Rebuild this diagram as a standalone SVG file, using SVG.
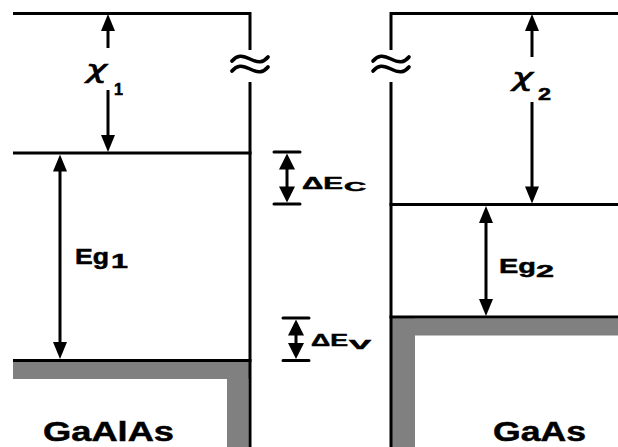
<svg xmlns="http://www.w3.org/2000/svg" xmlns:xlink="http://www.w3.org/1999/xlink" width="618" height="447" viewBox="0 0 618 447">
<style>
.ln{stroke:#000;stroke-width:3;fill:none}
.tk{stroke:#000;stroke-width:3;fill:none;stroke-linecap:round}
.sh{stroke:#000;stroke-width:3;fill:none}
.band{fill:#808080}
.t{font-family:"Liberation Sans",Arial,sans-serif;font-weight:bold;fill:#000;stroke:#000;stroke-width:0.5}
.chi{font-family:"DejaVu Sans","Liberation Sans",sans-serif;font-style:oblique;fill:#000;stroke:#000;stroke-width:0.7}
.brk{stroke:#000;stroke-width:3.6;fill:none;stroke-linecap:round}
</style>
<defs>
<path id="ah" d="M0,0 L-7,17 L7,17 Z" fill="#000"/>
<path id="ahs" d="M0,0 L-8,16 L8,16 Z" fill="#000"/>
<g id="approx">
<path class="brk" d="M1,6 C6,0 11,0 19,4 C27,8 32,8 37,2"/>
<path class="brk" d="M1,16 C6,10 11,10 19,14 C27,18 32,18 37,12"/>
</g>
</defs>
<rect width="618" height="447" fill="#fff"/>

<g id="gaalas">
<rect class="band" x="13" y="362" width="237" height="17"/>
<rect class="band" x="227" y="362" width="21.5" height="85"/>
<path class="ln" d="M13,13.5 H250 V50"/>
<path class="ln" d="M250,82 V447"/>
<path class="ln" d="M13,153 H251.5"/>
<path class="ln" d="M13,360.5 H251.5"/>
<use xlink:href="#approx" x="231" y="55"/>
<text class="t" x="43" y="441" font-size="28.5" textLength="131" lengthAdjust="spacingAndGlyphs">GaAlAs</text>
</g>

<g id="gaas">
<rect class="band" x="391" y="318.5" width="227" height="17"/>
<rect class="band" x="391" y="318.5" width="24" height="128.5"/>
<path class="ln" d="M391,50 V13.5 H618"/>
<path class="ln" d="M391,82 V447"/>
<path class="ln" d="M389.5,204.5 H618"/>
<path class="ln" d="M389.5,317 H618"/>
<use xlink:href="#approx" x="372" y="55"/>
<text class="t" x="493" y="441" font-size="28.5" textLength="93" lengthAdjust="spacingAndGlyphs">GaAs</text>
</g>

<g id="connectors">
<path class="sh" d="M108,48 V30"/>
<use xlink:href="#ah" transform="translate(108,14)"/>
<path class="sh" d="M108,90 V136"/>
<use xlink:href="#ah" transform="translate(108,152) rotate(180)"/>
<path class="sh" d="M60,170 V343"/>
<use xlink:href="#ah" transform="translate(60,154.5)"/>
<use xlink:href="#ah" transform="translate(60,359) rotate(180)"/>
<path class="sh" d="M532,57 V30"/>
<use xlink:href="#ah" transform="translate(532,14)"/>
<path class="sh" d="M532,102 V188"/>
<use xlink:href="#ah" transform="translate(532,203.5) rotate(180)"/>
<path class="sh" d="M486,222 V300"/>
<use xlink:href="#ah" transform="translate(486,206)"/>
<use xlink:href="#ah" transform="translate(486,316) rotate(180)"/>
<path class="tk" d="M274,152 H300 M274,204 H300"/>
<path class="sh" d="M287,166 V190"/>
<use xlink:href="#ahs" transform="translate(287,153.5)"/>
<use xlink:href="#ahs" transform="translate(287,202.5) rotate(180)"/>
<path class="tk" d="M283,318 H309 M283,360.5 H309"/>
<path class="sh" d="M296,332 V347"/>
<use xlink:href="#ahs" transform="translate(296,319.5)"/>
<use xlink:href="#ahs" transform="translate(296,359) rotate(180)"/>
</g>

<g id="labels">
<text class="chi" x="86" y="78" font-size="24" textLength="21" lengthAdjust="spacingAndGlyphs">χ</text>
<text class="t" x="114" y="95" font-size="16" textLength="9" lengthAdjust="spacingAndGlyphs">1</text>
<text class="chi" x="512" y="86" font-size="24" textLength="21" lengthAdjust="spacingAndGlyphs">χ</text>
<text class="t" x="538" y="100" font-size="16" textLength="13" lengthAdjust="spacingAndGlyphs">2</text>
<text class="t" x="75" y="264" font-size="22" textLength="34" lengthAdjust="spacingAndGlyphs">Eg</text>
<text class="t" x="111" y="268" font-size="21" textLength="17" lengthAdjust="spacingAndGlyphs">1</text>
<text class="t" x="499" y="273" font-size="21" textLength="37" lengthAdjust="spacingAndGlyphs">Eg</text>
<text class="t" x="536" y="277" font-size="17" textLength="18" lengthAdjust="spacingAndGlyphs">2</text>
<text class="t" x="302" y="189" font-size="17" textLength="41" lengthAdjust="spacingAndGlyphs">ΔE</text>
<text class="t" x="344" y="191" font-size="12" textLength="22" lengthAdjust="spacingAndGlyphs">C</text>
<text class="t" x="311" y="346" font-size="17" textLength="37" lengthAdjust="spacingAndGlyphs">ΔE</text>
<text class="t" x="349" y="349" font-size="12" textLength="22" lengthAdjust="spacingAndGlyphs">V</text>
</g>
</svg>
